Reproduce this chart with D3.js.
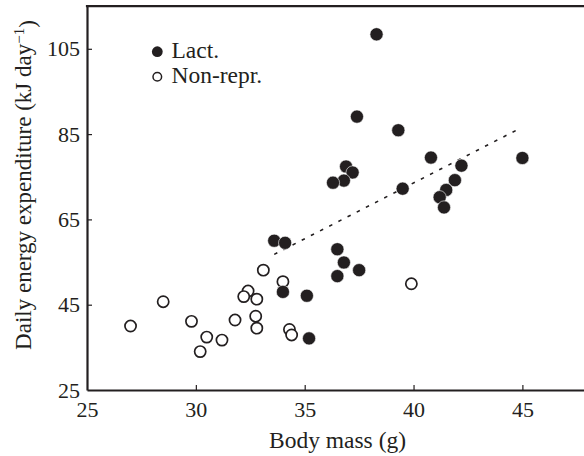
<!DOCTYPE html>
<html>
<head>
<meta charset="utf-8">
<script src="https://cdn.jsdelivr.net/npm/d3@7/dist/d3.min.js"></script>
<style>
  html, body { margin: 0; padding: 0; background: #fff; }
  svg { display: block; }
  svg text { font-family: "Liberation Serif", "Times New Roman", serif !important; fill: #231f20; }
</style>
</head>
<body>
<svg id="chart" width="584" height="456" font-family="Liberation Serif, serif"></svg>
<script>
// Lactating females: body mass (g) and daily energy expenditure (kJ/day)
const lactMass = [38.3, 37.4, 39.3, 40.8, 45.0, 42.2, 41.9, 41.5, 41.2, 41.4, 39.5,
                  36.9, 37.2, 36.8, 36.3, 36.5, 36.8, 37.5, 36.5, 33.6, 34.1, 34.0, 35.1, 35.2];
const lactDEE  = [108.4, 89.1, 85.9, 79.5, 79.4, 77.6, 74.2, 71.9, 70.2, 67.8, 72.2,
                  77.4, 76.0, 74.1, 73.6, 58.0, 54.9, 53.1, 51.7, 60.0, 59.5, 48.0, 47.1, 37.1];
// Non-reproductive females
const nonMass = [27.0, 28.5, 29.8, 30.5, 30.2, 31.2, 31.8, 33.1, 34.0, 39.9, 32.4,
                 32.2, 32.8, 32.75, 32.8, 34.3, 34.4];
const nonDEE  = [40.0, 45.7, 41.1, 37.4, 34.0, 36.7, 41.4, 53.1, 50.4, 49.9, 48.2,
                 46.9, 46.3, 42.3, 39.5, 39.2, 37.9];
// Regression line (lactating)
const fitMass = [33.6, 44.8];
const fitDEE  = [56.8, 86.1];
// Axis ticks
const xTicks = [25, 30, 35, 40, 45];
const yTicks = [25, 45, 65, 85, 105];
const legendLabels = ["Lact.", "Non-repr."];

const ink = "#231f20";
const serif = '"Liberation Serif", "Times New Roman", serif';
const svg = d3.select("#chart");

const x = d3.scaleLinear().domain([25, 48]).range([87, 587.7]);
const y = d3.scaleLinear().domain([25, 115]).range([390, 6.15]);

// Axes
const xAxis = d3.axisBottom(x).tickValues(xTicks).tickSizeInner(-5).tickSizeOuter(0).tickPadding(11.5);
const yAxis = d3.axisLeft(y).tickValues(yTicks).tickSizeInner(-5).tickSizeOuter(0).tickPadding(7);

const gx = svg.append("g").attr("transform", `translate(0,${y(25)})`).call(xAxis);
const gy = svg.append("g").attr("transform", `translate(${x(25)},0)`).call(yAxis);
[gx, gy].forEach(g => {
  g.attr("font-family", serif).attr("font-size", 22);
  g.select(".domain").attr("stroke", ink).attr("stroke-width", 2.2);
  g.selectAll(".tick line").attr("stroke", ink).attr("stroke-width", 1.2);
  g.selectAll(".tick text").attr("fill", ink)
    .attr("font-family", serif)
    .style("font-size", "22px");
});
gx.selectAll(".tick").filter(d => d === 25).select("line").remove();
gy.selectAll(".tick").filter(d => d === 25).select("line").remove();

// Top frame line
svg.append("line")
  .attr("x1", x(25) - 1.1).attr("x2", x(48))
  .attr("y1", y(115)).attr("y2", y(115))
  .attr("stroke", ink).attr("stroke-width", 2.2);

// Regression line (dotted)
svg.append("line")
  .attr("x1", x(fitMass[0])).attr("y1", y(fitDEE[0]))
  .attr("x2", x(fitMass[1])).attr("y2", y(fitDEE[1]))
  .attr("stroke", ink).attr("stroke-width", 1.6)
  .attr("stroke-dasharray", "3.5,6.8");

// Non-reproductive points (open)
svg.append("g").selectAll("circle")
  .data(d3.zip(nonMass, nonDEE))
  .join("circle")
  .attr("cx", d => x(d[0])).attr("cy", d => y(d[1]))
  .attr("r", 5.6)
  .attr("fill", "#fff").attr("stroke", ink).attr("stroke-width", 1.7);

// Lactating points (filled)
svg.append("g").selectAll("circle")
  .data(d3.zip(lactMass, lactDEE))
  .join("circle")
  .attr("cx", d => x(d[0])).attr("cy", d => y(d[1]))
  .attr("r", 6.6)
  .attr("fill", ink).attr("stroke", "#fff").attr("stroke-width", 0.6);

// Legend
const lg = svg.append("g");
lg.append("circle").attr("cx", 157.3).attr("cy", 51.7).attr("r", 5.4).attr("fill", ink);
lg.append("circle").attr("cx", 157.3).attr("cy", 76.7).attr("r", 4.3)
  .attr("fill", "#fff").attr("stroke", ink).attr("stroke-width", 1.5);
lg.append("text").attr("x", 171.5).attr("y", 57.5).attr("font-family", serif)
  .style("font-size", "23.5px").text(legendLabels[0]);
lg.append("text").attr("x", 171.5).attr("y", 82.7).attr("font-family", serif)
  .style("font-size", "23.5px").text(legendLabels[1]);

// Axis titles
svg.append("text")
  .attr("x", 337.5).attr("y", 448.3)
  .attr("text-anchor", "middle")
  .attr("font-family", serif)
  .style("font-size", "23.5px")
  .text("Body mass (g)");

const yl = svg.append("text")
  .attr("transform", "translate(31,185) rotate(-90)")
  .attr("text-anchor", "middle")
  .attr("font-family", serif)
  .style("font-size", "23px");
yl.append("tspan").text("Daily energy expenditure (kJ day");
yl.append("tspan").attr("dy", "-0.45em").style("font-size", "15px").text("−1");
yl.append("tspan").attr("dy", "0.45em").text(")");
</script>
</body>
</html>
